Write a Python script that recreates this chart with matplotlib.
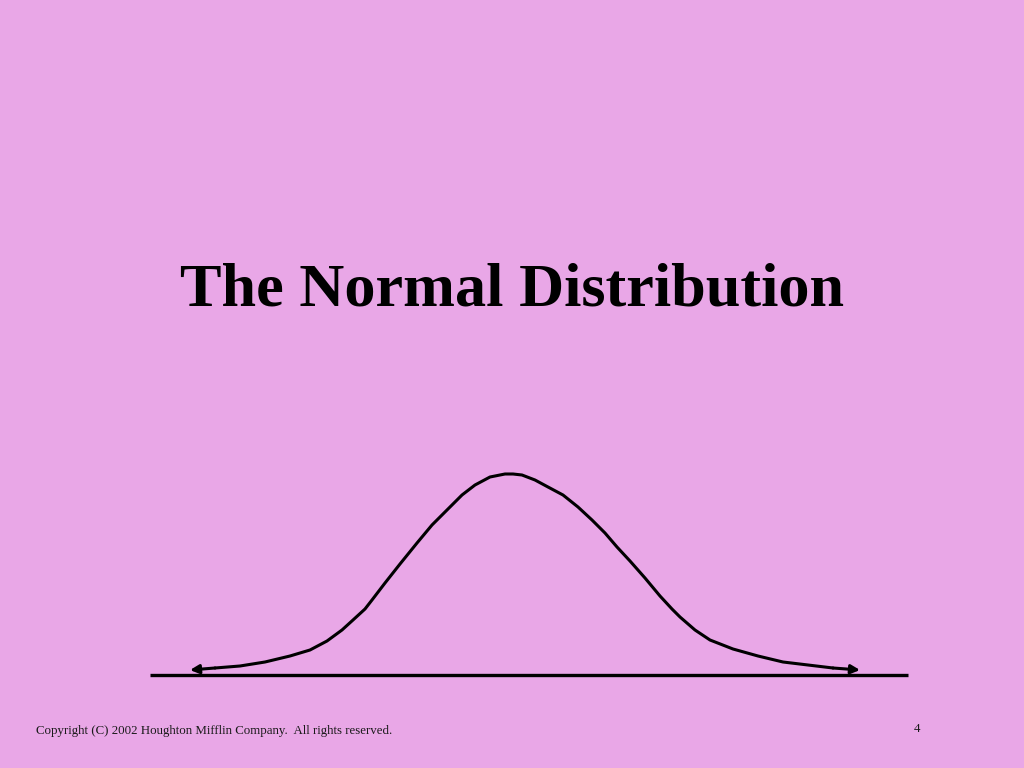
import matplotlib.pyplot as plt

# slide is drawn in pixel units (1024 x 768, y grows downward)
BG = "#E9A7E7"

title = "The Normal Distribution"
footer = "Copyright (C) 2002 Houghton Mifflin Company.  All rights reserved."
page_no = "4"

# hand-drawn bell curve
curve_x = [190, 215, 240, 265, 290, 310, 327, 342, 353, 365, 372, 385, 400, 417,
           432, 450, 462, 475, 490, 505, 513, 522, 535, 548, 563, 578, 592, 605,
           617, 630, 645, 660, 672, 680, 695, 710, 733, 758, 783, 808, 833, 860]
curve_y = [670, 668, 666, 662, 656, 650, 641, 630, 620, 609, 600, 583, 564, 543,
           525, 507, 495, 485, 477, 474, 474, 475, 480, 487, 495, 507, 520, 533,
           547, 561, 578, 596, 609, 617, 630, 640, 649, 656, 662, 665, 668, 670]

baseline_x = [150, 908]
baseline_y = [675, 675]

fig = plt.figure(figsize=(10.24, 7.68), dpi=100, facecolor=BG)
ax = fig.add_axes([0, 0, 1, 1])
ax.set_facecolor(BG)
ax.set_xlim(0, 1024)
ax.set_ylim(768, 0)
ax.axis("off")

ax.text(512, 305, title, ha="center", va="baseline", fontsize=44.8,
        fontweight="bold", family="Liberation Serif", color="black")

ax.plot(baseline_x, baseline_y, color="black", lw=2.4, solid_capstyle="butt")
ax.plot(curve_x[1:-1], curve_y[1:-1], color="black", lw=2.2,
        solid_joinstyle="round", solid_capstyle="round")

# arrowheads at both tails
for tip, prev in [(0, 1), (-1, -2)]:
    ax.annotate("", xy=(curve_x[tip], curve_y[tip]),
                xytext=(curve_x[prev], curve_y[prev]),
                arrowprops=dict(arrowstyle="-|>", color="black", lw=2.2,
                                mutation_scale=13, shrinkA=0, shrinkB=0))

ax.text(36, 734, footer, ha="left", va="baseline", fontsize=9.3,
        family="Liberation Serif", color="#1a1a1a")
ax.text(917, 732, page_no, ha="center", va="baseline", fontsize=9.3,
        family="Liberation Serif", color="#1a1a1a")

fig.savefig("out.png", dpi=100, facecolor=BG)
